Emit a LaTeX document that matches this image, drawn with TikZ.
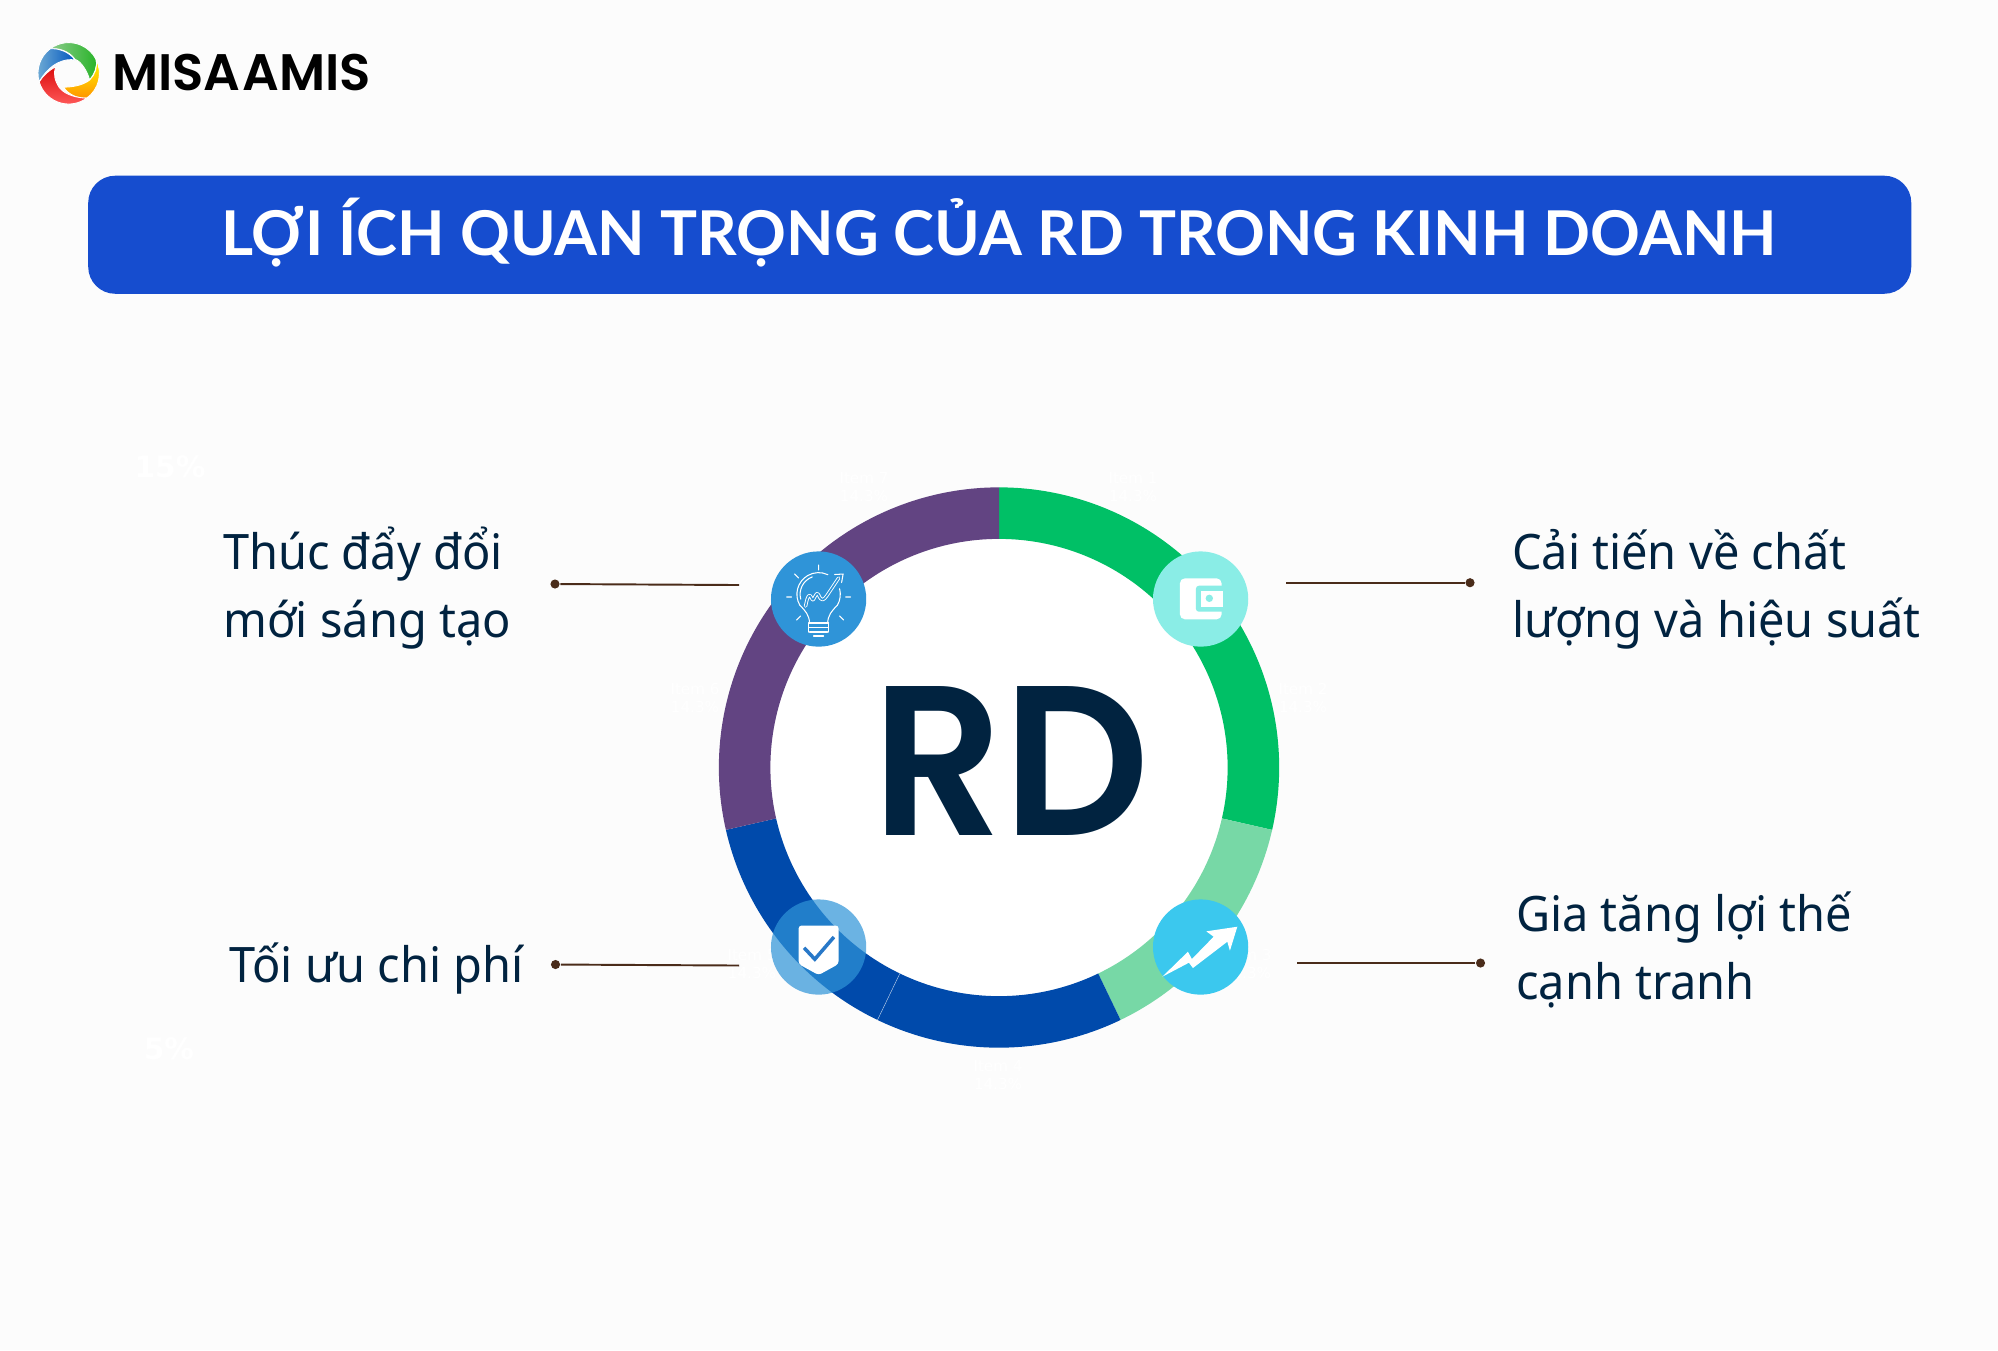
\documentclass[tikz,border=0pt]{standalone}
\usepackage{fontspec}
\setmainfont{Noto Sans}[FakeStretch=.96]
\newfontfamily\titlefont{Lato}[Scale=1]
\newfontfamily\popfont{Poppins}[UprightFont=* SemiBold]
\newfontfamily\faintfont{DejaVu Sans}
\definecolor{bgc}{HTML}{FCFCFC}
\definecolor{bannerc}{HTML}{164DCF}
\definecolor{inkc}{HTML}{012340}
\definecolor{greenc}{HTML}{00C066}
\definecolor{lightgreenc}{HTML}{77D8A6}
\definecolor{bluec}{HTML}{004AAB}
\definecolor{purplec}{HTML}{624482}
\definecolor{leaderc}{HTML}{4A2C1A}
\definecolor{bulbc}{HTML}{2F94D8}
\definecolor{tealc}{HTML}{8AEDE6}
\definecolor{skyc}{HTML}{3BC8EE}
\definecolor{checkc}{HTML}{2878C8}
\tikzset{
  bodytext/.style={inner sep=0pt,anchor=north west,align=left,text=inkc,font=\fontsize{13.9pt}{19.35pt}\selectfont},
  leaderdot/.style={circle,fill=leaderc,minimum size=2.6pt,inner sep=0pt},
  leader/.style={draw=leaderc,line width=.55pt},
  iconc/.style={circle,minimum size=.952cm,inner sep=0pt},
  faint/.style={text=white,inner sep=0pt,align=center,font=\faintfont\fontsize{4.3pt}{5.1pt}\selectfont},
  thinw/.style={draw=white,line width=.3pt,line cap=round,line join=round},
  blade/.style={draw=white,line width=.25pt,line join=round},
}
\newcommand{\ringseg}[3]{\fill[#1] (#2:2.80cm) arc[start angle=#2,end angle=#3,radius=2.80cm] -- (#3:2.285cm) arc[start angle=#3,end angle=#2,radius=2.285cm] -- cycle;}
\begin{document}
\begin{tikzpicture}[x=.01cm,y=-.01cm]
\useasboundingbox (0,0) rectangle (1998,1350);
\fill[bgc] (0,0) rectangle (1998,1350);
% logo
\begin{scope}[shift={(68.7,73.3)},x=.307cm,y=.307cm]
  \shadedraw[blade,left color=green!55!black!45!white,right color=green!65!black!85!white] (127:.307cm) arc[start angle=127,end angle=27,radius=.307cm] .. controls (.95,.2) and (.82,-.05) .. (.68,-.22) .. controls (.62,.05) and (.4,.4) .. (.21,.45) .. controls (0,.75) and (-.35,.82) .. cycle;
  \shadedraw[blade,top color=yellow!95!orange,bottom color=orange!85!yellow] (27:.307cm) arc[start angle=27,end angle=-54,radius=.307cm] .. controls (.3,-.83) and (0,-.7) .. (-.17,-.45) .. controls (.1,-.45) and (.45,-.4) .. (.68,-.22) .. controls (.85,-.05) and (.95,.2) .. cycle;
  \shadedraw[blade,top color=red!85!black!95!white,bottom color=red!65!white] (196:.307cm) arc[start angle=196,end angle=306,radius=.307cm] .. controls (.3,-.8) and (-.1,-.72) .. (-.3,-.47) .. controls (-.45,-.25) and (-.52,0) .. (-.41,.22) .. controls (-.65,.1) and (-.85,-.1) .. cycle;
  \shadedraw[blade,left color=blue!40!cyan!70!black!55!white,right color=blue!55!cyan!75!black] (196:.307cm) arc[start angle=196,end angle=127,radius=.307cm] .. controls (-.35,.82) and (0,.72) .. (.21,.43) .. controls (-.1,.5) and (-.6,.35) .. cycle;
\end{scope}
\node[inner sep=0pt,anchor=base west,font=\popfont\fontsize{14.6pt}{14.6pt}\selectfont,text=black] (logotext) at (111.5,90) {MISA\kern-.2em\ AMIS};
% banner
\node[draw=none,fill=bannerc,rounded corners=.27cm,minimum width=18.22cm,minimum height=1.18cm,inner sep=0pt,anchor=north west] (banner) at (87.5,175) {};
\node[inner sep=0pt,anchor=base,text=white,font=\titlefont\bfseries\fontsize{17.56pt}{17.56pt}\selectfont] (title) at (999,255) {LỢI ÍCH QUAN TRỌNG CỦA RD TRONG KINH DOANH};
% faint labels
\node[faint,font=\faintfont\bfseries\fontsize{8.4pt}{8.4pt}\selectfont] (p15) at (170,467) {15\%};
\node[faint,font=\faintfont\bfseries\fontsize{8.4pt}{8.4pt}\selectfont] (p5) at (169,1049) {5\%};
\node[faint] (i7) at (864,487) {Item 7\\14.3\%};
\node[faint] (i1) at (1133,487) {Item 1\\14.3\%};
\node[faint] (i6) at (695,698) {Item 6\\14.3\%};
\node[faint] (i2) at (1303,698) {Item 2\\14.3\%};
\node[faint] (i5) at (752,964) {Item 5\\14.3\%};
\node[faint] (i3) at (1247,964) {Item 3\\14.3\%};
\node[faint] (i4) at (998,1075) {Item 4\\14.3\%};
% ring
\begin{scope}[shift={(999,767.5)}]
  \fill[white] (0,0) circle[radius=2.285cm];
  \ringseg{greenc}{90}{-12.86}
  \ringseg{lightgreenc}{-12.86}{-64.29}
  \ringseg{bluec}{-64.29}{-115.71}
  \ringseg{bluec}{-115.71}{-167.14}
  \ringseg{purplec}{-167.14}{-270}
  \draw[white!70!bluec,line width=.12pt] (-115.71:2.285cm) -- (-115.71:2.80cm);
\end{scope}
\node[inner sep=0pt,anchor=base,text=inkc,font=\popfont\fontsize{60.7pt}{60.7pt}\selectfont] (rd) at (1011,835.5) {\scalebox{.955}[1]{RD}};
% icons
\node[iconc,fill=bulbc] (bulb) at (818.6,599) {};
\node[iconc,fill=tealc] (wallet) at (1200.6,599) {};
\node[iconc,fill=bulbc,fill opacity=.71] (shield) at (818.6,947) {};
\node[iconc,fill=skyc] (growth) at (1200.6,947) {};
% bulb drawing
\begin{scope}[shift={(bulb.center)},thinw]
  \draw (0,-4.7) ++(210:.217cm) arc[start angle=210,end angle=65,radius=.217cm];
  \draw (0,-4.7) ++(15:.217cm) arc[start angle=15,end angle=-30,radius=.217cm];
  \draw (0,-4.7) ++(195:.185cm) arc[start angle=195,end angle=110,radius=.185cm];
  \draw (-18.8,6.2) .. controls (-13,12) and (-9.5,16) .. (-9,24) (18.8,6.2) .. controls (13,12) and (9.5,16) .. (9,24);
  \draw (-10,24) -- (10,24) (-10,28.5) -- (10,28.5) (-9,33) -- (9,33) (-5,37) -- (5,37);
  \draw (-10,24) -- (-10,33) (10,24) -- (10,33);
  \draw (0,-34) -- (0,-29) (-24,-25) -- (-20,-21) (-32,-2) -- (-27,-2) (27,-2) -- (32,-2) (-22,21) -- (-18,17) (21,17) -- (25,21);
  \draw[double=bulbc,double distance=.45pt,line width=.26pt] (-13,7) .. controls (-11,-4) and (-9,-6) .. (-7,-1) .. controls (-5,6) and (-3,-10) .. (0,-4) .. controls (3,3) and (5,1) .. (8,-3) -- (20,-21);
  \draw (16,-24.5) -- (24.5,-25) -- (23,-16.5);
\end{scope}
% wallet drawing
\begin{scope}[shift={(wallet.center)}]
  \fill[white,rounded corners=.05cm] (-20.7,-20.7) rectangle (21,20.3);
  \fill[tealc,rounded corners=.03cm] (-4.7,-13.3) rectangle (24,12.7);
  \fill[white] (0,-8.3) rectangle (22.7,7.7);
  \fill[tealc] (8.7,-.7) circle[radius=.037cm];
\end{scope}
% shield drawing
\begin{scope}[shift={(shield.center)}]
  \fill[white,rounded corners=.03cm] (-20,-21.5) -- (20,-21.5) -- (20,17) -- (0,28) -- (-20,17) -- cycle;
  \draw[checkc,line width=1pt] (-14.5,.8) -- (-3.8,12.2) -- (15.3,-10);
\end{scope}
% arrow drawing
\begin{scope}[shift={(growth.center)}]
  \fill[white] (-38.3,29.7) -- (-12.7,4.7) -- (-8.7,12) -- (13,-10.3) -- (5.7,-15.7) -- (36.7,-20.3) -- (29.3,3.7) -- (26.7,-5.3) -- (-7.7,21) -- (-11.7,15.7) -- cycle;
\end{scope}
% leaders
\node[leaderdot] (d1) at (555,584) {}; \coordinate (e1) at (739,585);
\node[leaderdot] (d2) at (1470,582.7) {}; \coordinate (e2) at (1286,582.7);
\node[leaderdot] (d3) at (555.5,964.5) {}; \coordinate (e3) at (739,965.5);
\node[leaderdot] (d4) at (1480.5,963) {}; \coordinate (e4) at (1296.5,963);
\draw[leader] (d1) -- (e1);
\draw[leader] (d2) -- (e2);
\draw[leader] (d3) -- (e3);
\draw[leader] (d4) -- (e4);
% labels
\node[bodytext] (t1) at (222.5,526.4) {Thúc đẩy đổi\\mới sáng tạo};
\node[bodytext] (t2) at (1511.5,529) {Cải tiến về chất\\lượng và hiệu suất};
\node[bodytext] (t3) at (229,942.4) {Tối ưu chi phí};
\node[bodytext] (t4) at (1515.5,891) {Gia tăng lợi thế\\cạnh tranh};
\end{tikzpicture}
\end{document}
